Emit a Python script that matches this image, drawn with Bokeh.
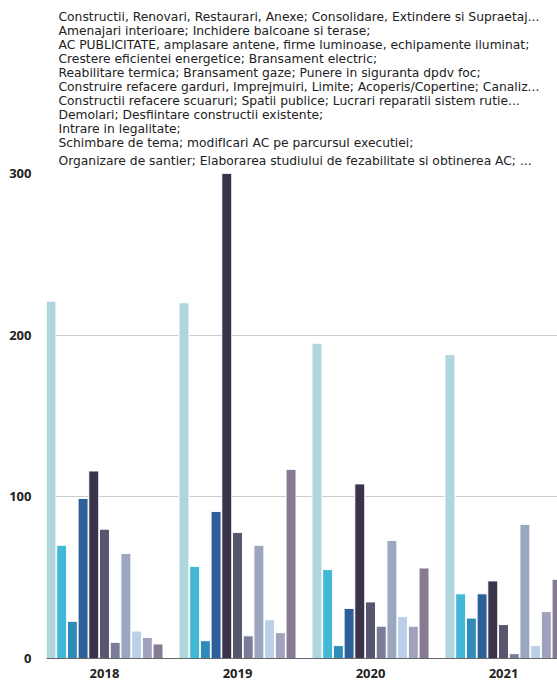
from bokeh.plotting import figure
from bokeh.models import ColumnDataSource, Range1d, FixedTicker, Title
from bokeh.transform import dodge
from bokeh.embed import file_html
from bokeh.resources import INLINE

years = [2018, 2019, 2020, 2021]

categories = [
    "Constructii, Renovari, Restaurari, Anexe; Consolidare, Extindere si Supraetaj...",
    "Amenajari interioare; Inchidere balcoane si terase;",
    "AC PUBLICITATE, amplasare antene, firme luminoase, echipamente iluminat;",
    "Crestere eficientei energetice; Bransament electric;",
    "Reabilitare termica; Bransament gaze; Punere in siguranta dpdv foc;",
    "Construire refacere garduri, Imprejmuiri, Limite; Acoperis/Copertine; Canaliz...",
    "Constructii refacere scuaruri; Spatii publice; Lucrari reparatii sistem rutie...",
    "Demolari; Desfiintare constructii existente;",
    "Intrare in legalitate;",
    "Schimbare de tema; modifIcari AC pe parcursul executiei;",
    "Organizare de santier; Elaborarea studiului de fezabilitate si obtinerea AC; ...",
]

colors = ["#aed6dc", "#41b8d5", "#2e8bba", "#2d5f98", "#3a3349", "#58566e",
          "#7b7c98", "#9ba6bf", "#bccfe8", "#a0a1bb", "#877a93"]

s01 = [221, 220, 195, 188]
s02 = [70, 57, 55, 40]
s03 = [23, 11, 8, 25]
s04 = [99, 91, 31, 40]
s05 = [116, 300, 108, 48]
s06 = [80, 78, 35, 21]
s07 = [10, 14, 20, 3]
s08 = [65, 70, 73, 83]
s09 = [17, 24, 26, 8]
s10 = [13, 16, 20, 29]
s11 = [9, 117, 56, 49]
series = [s01, s02, s03, s04, s05, s06, s07, s08, s09, s10, s11]

y_ticks = [0, 100, 200, 300]

data = {"year": years}
for i, s in enumerate(series):
    data[f"s{i}"] = s
src = ColumnDataSource(data)

p = figure(width=557, height=683, output_backend="svg", toolbar_location=None,
           x_range=Range1d(2017.564, 2021.406), y_range=Range1d(0, 300),
           min_border_left=46, min_border_right=0, min_border_top=173,
           min_border_bottom=25)
p.outline_line_color = None
p.background_fill_color = "white"
p.border_fill_color = "white"

step = 0.0805
for i, c in enumerate(colors):
    off = (i - 5) * step
    p.vbar(x=dodge("year", off, range=p.x_range), top=f"s{i}", width=0.075,
           bottom=0, source=src, fill_color=c, line_color="white", line_width=1)

p.xgrid.grid_line_color = None
p.ygrid.grid_line_color = "#cccccc"
p.ygrid.ticker = FixedTicker(ticks=y_ticks)

p.yaxis.ticker = FixedTicker(ticks=y_ticks)
p.yaxis.axis_line_color = None
p.yaxis.major_tick_line_color = None
p.yaxis.minor_tick_line_color = None
p.yaxis.major_label_standoff = 9
p.yaxis.major_label_text_font = "Open Sans"
p.yaxis.major_label_text_font_size = "13px"
p.yaxis.major_label_text_font_style = "bold"
p.yaxis.major_label_text_color = "#222222"

p.xaxis.ticker = FixedTicker(ticks=years)
p.xaxis.axis_line_color = "#666666"
p.xaxis.major_tick_line_color = None
p.xaxis.minor_tick_line_color = None
p.xaxis.major_label_standoff = 4
p.xaxis.major_label_text_font = "Open Sans"
p.xaxis.major_label_text_font_size = "13px"
p.xaxis.major_label_text_font_style = "bold"
p.xaxis.major_label_text_color = "#222222"

# legend lines (text only, as in the reference), stacked above the plot frame
for k, cat in enumerate(reversed(categories)):
    t = Title(text=cat, align="left", offset=12, vertical_align="top",
              standoff=7 if k == 0 else -2,
              text_font="DejaVu Sans", text_font_size="12.3px",
              text_font_style="normal", text_color="#222222")
    p.add_layout(t, "above")

open("out.html", "w").write(file_html(p, INLINE))
